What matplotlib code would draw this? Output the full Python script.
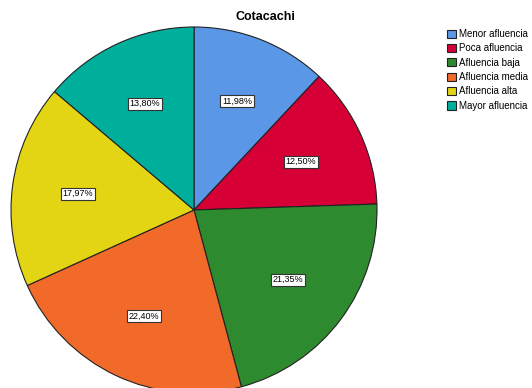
import matplotlib
matplotlib.use('Agg')
import matplotlib.pyplot as plt
from matplotlib.patches import Patch

plt.rcParams['font.family'] = ['Liberation Sans', 'DejaVu Sans']

# Data
categories = ['Menor afluencia', 'Poca afluencia', 'Afluencia baja',
              'Afluencia media', 'Afluencia alta', 'Mayor afluencia']
values = [11.98, 12.50, 21.35, 22.40, 17.97, 13.80]
colors = ['#5A97E6', '#D60036', '#2E8A2E', '#F26A2A', '#E3D514', '#00AE9C']

fig = plt.figure(figsize=(5.32, 3.88), dpi=100)
ax = fig.add_axes([11 / 532, (388 - 393) / 388, 366 / 532, 366 / 388])

wedges, texts, autotexts = ax.pie(
    values, colors=colors, startangle=90, counterclock=False,
    autopct=lambda p: f'{p:.2f}%'.replace('.', ','), pctdistance=0.64,
    wedgeprops=dict(edgecolor='#222222', linewidth=0.8),
    textprops=dict(fontsize=6.5, color='black'))
for t in autotexts:
    t.set_bbox(dict(facecolor='white', edgecolor='#333333', linewidth=0.8, pad=1.2))
ax.set_xlim(-1, 1)
ax.set_ylim(-1, 1)
ax.set_aspect('equal')
ax.axis('off')

fig.text(265 / 532, 1 - 17 / 388, 'Cotacachi', ha='center', va='center',
         fontsize=9, fontweight='bold')

handles = [Patch(facecolor=c, edgecolor='#222222', linewidth=0.8) for c in colors]
fig.legend(handles, categories, loc='upper left', bbox_to_anchor=(447 / 532, 1 - 29 / 388),
           frameon=False, fontsize=7.0, handlelength=0.9, handleheight=0.9,
           handletextpad=0.3, labelspacing=0.45, borderpad=0, borderaxespad=0)

fig.savefig('out.png', dpi=100)
